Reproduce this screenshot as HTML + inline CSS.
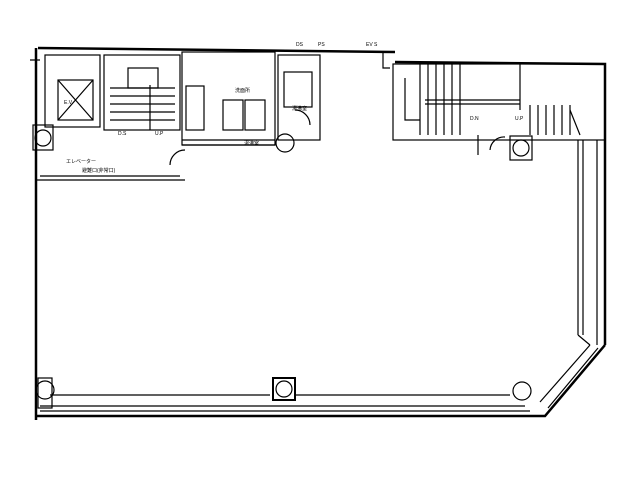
<!DOCTYPE html>
<html><head><style>
html,body{margin:0;padding:0;background:#fff;width:640px;height:480px;overflow:hidden}
svg{display:block}
text{font-family:"Liberation Sans","Noto Sans CJK JP",sans-serif;font-size:5px;fill:#000}
</style></head><body>
<svg width="640" height="480" viewBox="0 0 640 480" xmlns="http://www.w3.org/2000/svg" fill="none" stroke="#000">
<g stroke-width="2.5">
<path d="M38 48 L395 52"/>
<path d="M395 62 L605 64 L605 345"/>
<path d="M36 48 L36 420"/>
<path d="M36 416 L545 416 L605 345"/>
</g>
<g stroke-width="1.2">
<path d="M40 406 L525 406"/><path d="M40 411 L530 411"/>
<path d="M50 395 L270 395"/><path d="M295 395 L510 395"/>
<path d="M578 140 L578 335"/><path d="M583 140 L583 335"/><path d="M597 140 L597 345"/>
<path d="M540 402 L590 345"/><path d="M548 408 L598 348"/>
<path d="M578 335 L590 345"/>
<path d="M36 180 L185 180"/><path d="M40 176 L180 176"/>
<rect x="45" y="55" width="55" height="72"/>
<rect x="58" y="80" width="35" height="40"/><path d="M58 80 L93 120 M93 80 L58 120"/>
<rect x="104" y="55" width="76" height="75"/>
<rect x="128" y="68" width="30" height="20"/>
<path d="M110 88 L175 88 M110 96 L175 96 M110 104 L175 104 M110 112 L175 112 M110 120 L175 120"/>
<path d="M150 85 L150 130"/>
<rect x="182" y="52" width="93" height="93"/>
<rect x="186" y="86" width="18" height="44"/>
<rect x="223" y="100" width="20" height="30"/><rect x="245" y="100" width="20" height="30"/>
<path d="M182 140 L275 140 M182 145 L275 145"/>
<rect x="278" y="55" width="42" height="85"/>
<rect x="284" y="72" width="28" height="35"/>
<path d="M170 165 A15 15 0 0 1 185 150"/>
<path d="M295 110 A15 15 0 0 1 310 125"/>
<rect x="393" y="64" width="212" height="76"/>
<path d="M520 64 L520 110"/>
<path d="M420 64 L420 135 M428 64 L428 135 M436 64 L436 135 M444 64 L444 135 M452 64 L452 135 M460 64 L460 135"/>
<path d="M425 100 L520 100 M425 104 L520 104"/>
<path d="M405 78 L405 120 L420 120"/>
<path d="M530 105 L530 135 M538 105 L538 135 M546 105 L546 135 M554 105 L554 135 M562 105 L562 135 M570 105 L570 135"/>
<path d="M570 110 L580 135"/>
<path d="M490 150 A14 14 0 0 1 505 137"/><path d="M478 155 L478 135"/>
<rect x="33" y="125" width="20" height="25"/><circle cx="43" cy="138" r="8"/>
<circle cx="285" cy="143" r="9"/>
<rect x="510" y="136" width="22" height="24"/><circle cx="521" cy="148" r="8"/>
<rect x="38" y="378" width="14" height="30"/><circle cx="45" cy="390" r="9"/>
<rect x="273" y="378" width="22" height="22" stroke-width="2"/><circle cx="284" cy="389" r="8"/>
<circle cx="522" cy="391" r="9"/>
<path d="M40 60 L30 60 M383 52 L383 68 L390 68"/>
</g>
<g stroke="none">
<text x="64" y="104">E.V</text><text x="118" y="135">D.S</text><text x="155" y="135">U.P</text>
<text x="66" y="163">エレベーター</text><text x="82" y="172">避難口(非常口)</text>
<text x="235" y="92">洗面所</text><text x="292" y="110">湯沸室</text><text x="244" y="145">湯沸室</text>
<text x="470" y="120">D.N</text><text x="515" y="120">U.P</text>
<text x="296" y="46">DS</text><text x="318" y="46">PS</text><text x="366" y="46">EV S</text>
</g>
</svg>
</body></html>
